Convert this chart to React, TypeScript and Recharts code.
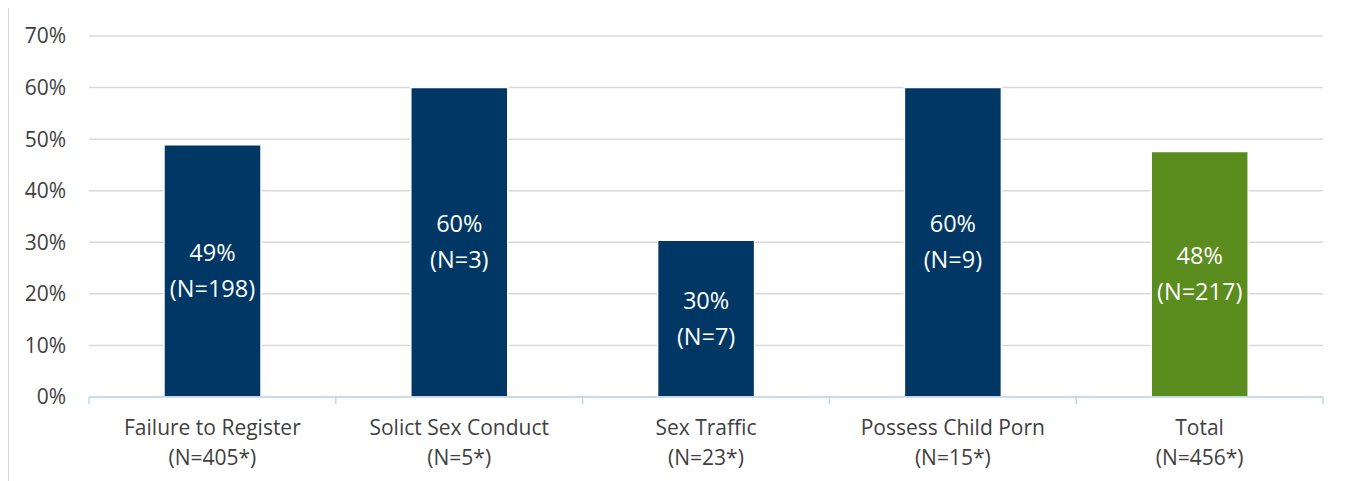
import React from 'react';
import { BarChart, Bar, XAxis, YAxis, CartesianGrid, Cell, LabelList } from 'recharts';

const categories = ['Failure to Register', 'Solict Sex Conduct', 'Sex Traffic', 'Possess Child Porn', 'Total'];
const totals = ['(N=405*)', '(N=5*)', '(N=23*)', '(N=15*)', '(N=456*)'];
const rates = [48.9, 60, 30.4, 60, 47.6];
const rateLabels = ['49%', '60%', '30%', '60%', '48%'];
const counts = ['(N=198)', '(N=3)', '(N=7)', '(N=9)', '(N=217)'];
const colors = ['#003764', '#003764', '#003764', '#003764', '#5b8c1e'];
const yTicks = [0, 10, 20, 30, 40, 50, 60, 70];

const data = categories.map((name, i) => ({
  name,
  total: totals[i],
  rate: rates[i],
  rateLabel: rateLabels[i],
  count: counts[i],
}));

const font = '"Open Sans", sans-serif';
const textColor = '#3f3f3f';

const CategoryTick = (props: any) => {
  const { x, y, payload, index, width, visibleTicksCount } = props;
  const band = width / visibleTicksCount;
  const row = data[index];
  const top = y - 8; // tick y comes in below the axis line
  return (
    <g>
      <line x1={x - band / 2} x2={x - band / 2} y1={top} y2={top + 7} stroke="#bdd7ee" strokeWidth={1.5} />
      {index === visibleTicksCount - 1 && (
        <line x1={x + band / 2} x2={x + band / 2} y1={top} y2={top + 7} stroke="#bdd7ee" strokeWidth={1.5} />
      )}
      <text x={x} y={top + 30} textAnchor="middle" dominantBaseline="central" fill={textColor} fontSize={21} fontFamily={font}>
        {payload.value}
      </text>
      <text x={x} y={top + 60} textAnchor="middle" dominantBaseline="central" fill={textColor} fontSize={21} fontFamily={font}>
        {row ? row.total : ''}
      </text>
    </g>
  );
};

const InsideLabel = (props: any) => {
  const { x, y, width, height, index } = props;
  const row = data[index];
  const cx = x + width / 2;
  const cy = y + height / 2;
  return (
    <g>
      <text x={cx} y={cy - 19} textAnchor="middle" dominantBaseline="central" fill="#ffffff" fontSize={23.5} fontFamily={font}>
        {row.rateLabel}
      </text>
      <text x={cx} y={cy + 17} textAnchor="middle" dominantBaseline="central" fill="#ffffff" fontSize={23.5} fontFamily={font}>
        {row.count}
      </text>
    </g>
  );
};

export default function App() {
  return (
    <div style={{ width: 1341, height: 490, border: '1px solid #d9d9d9', marginTop: -1, background: '#fff' }}>
      <BarChart width={1341} height={490} data={data} margin={{ top: 28, right: 27, bottom: 31, left: 20 }}>
        <CartesianGrid vertical={false} stroke="#d9d9d9" strokeWidth={1.5} />
        <YAxis
          domain={[0, 70]}
          ticks={yTicks}
          tickFormatter={(v: number) => `${v}%`}
          axisLine={false}
          tickLine={false}
          tickSize={0}
          tickMargin={23}
          width={60}
          tick={{ fill: textColor, fontSize: 21, fontFamily: font }}
        />
        <XAxis
          dataKey="name"
          height={70}
          axisLine={{ stroke: '#bdd7ee', strokeWidth: 1.5 }}
          tickLine={false}
          interval={0}
          tick={<CategoryTick />}
        />
        <Bar dataKey="rate" barSize={97} stroke="#ffffff" strokeWidth={1.5} isAnimationActive={false}>
          {data.map((d, i) => (
            <Cell key={d.name} fill={colors[i]} />
          ))}
          <LabelList dataKey="rate" content={<InsideLabel />} />
        </Bar>
      </BarChart>
    </div>
  );
}
